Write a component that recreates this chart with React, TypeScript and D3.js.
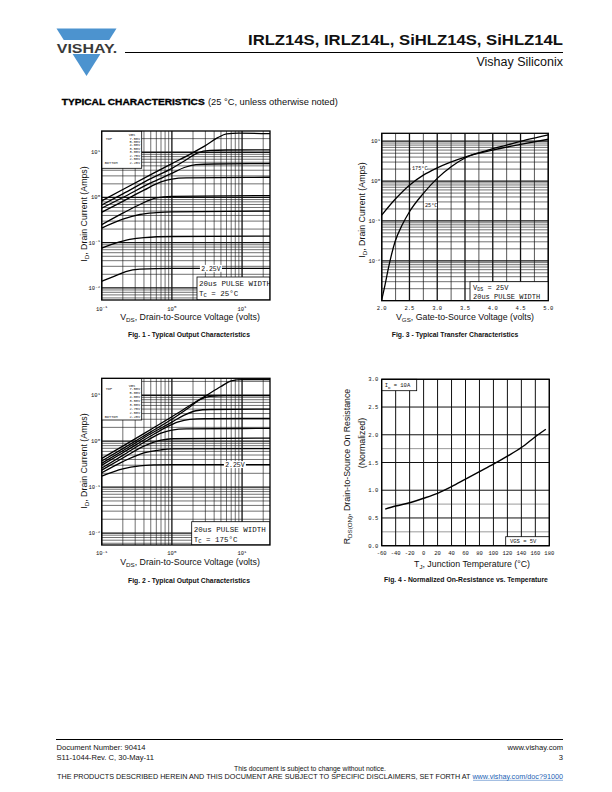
import React from "react";
import * as d3 from "d3";

type Pt = [number, number];

const SANS = "'Liberation Sans', Arial, Helvetica, sans-serif";
const MONO = "'Liberation Mono', 'DejaVu Sans Mono', monospace";

// ---------- page text ----------
const TITLE = "IRLZ14S, IRLZ14L, SiHLZ14S, SiHLZ14L";
const SUBTITLE = "Vishay Siliconix";
const SECTION = "TYPICAL CHARACTERISTICS";
const SECTION_NOTE = "(25 °C, unless otherwise noted)";
const FOOTER_LEFT = ["Document Number: 90414", "S11-1044-Rev. C, 30-May-11"];
const FOOTER_RIGHT = ["www.vishay.com", "3"];
const FOOTER_NOTICE = "This document is subject to change without notice.";
const FOOTER_DISCLAIMER = "THE PRODUCTS DESCRIBED HEREIN AND THIS DOCUMENT ARE SUBJECT TO SPECIFIC DISCLAIMERS, SET FORTH AT ";
const FOOTER_LINK = "www.vishay.com/doc?91000";

// ---------- Fig. 1 / Fig. 2 (output characteristics) ----------
const VGS_LABELS = ["7.50V", "5.00V", "4.00V", "3.50V", "3.00V", "2.75V", "2.50V", "2.25V"];
const VDS_DOMAIN: [number, number] = [0.1, 25];
const OUT_X_EXP = ["-1", "0", "1"];
const OUT_Y_EXP = ["-2", "-1", "0", "1"];

// Fig. 1, TC = 25 °C  [VDS, ID]
const fig1Vgs750: Pt[] = [[0.1, 0.84], [0.2, 1.5], [0.5, 3.2], [1, 5.6], [2, 9.8], [3, 14], [4.5, 21], [6, 25.5], [9, 26.5], [25, 25.8]];
const fig1Vgs500: Pt[] = [[0.1, 0.68], [0.2, 1.2], [0.5, 2.6], [1, 4.4], [1.6, 6.8], [2.3, 9.6], [3.5, 11], [6, 11.2], [25, 11.3]];
const fig1Vgs400: Pt[] = [[0.1, 0.58], [0.2, 1.0], [0.5, 2.1], [1, 3.4], [1.5, 4.6], [2.2, 5.3], [4, 5.5], [25, 5.6]];
const fig1Vgs350: Pt[] = [[0.1, 0.47], [0.2, 0.82], [0.4, 1.45], [0.7, 2.2], [1.0, 2.55], [1.6, 2.7], [25, 2.8]];
const fig1Vgs300: Pt[] = [[0.1, 0.25], [0.2, 0.45], [0.35, 0.7], [0.6, 0.98], [1.0, 1.06], [25, 1.1]];
const fig1Vgs275: Pt[] = [[0.1, 0.21], [0.2, 0.33], [0.35, 0.42], [0.6, 0.46], [1, 0.48], [25, 0.5]];
const fig1Vgs250: Pt[] = [[0.1, 0.076], [0.15, 0.095], [0.25, 0.118], [0.4, 0.13], [1, 0.137], [25, 0.14]];
const fig1Vgs225: Pt[] = [[0.1, 0.014], [0.15, 0.018], [0.22, 0.023], [0.35, 0.026], [1, 0.027], [25, 0.027]];
const FIG1_CURVES = [fig1Vgs750, fig1Vgs500, fig1Vgs400, fig1Vgs350, fig1Vgs300, fig1Vgs275, fig1Vgs250, fig1Vgs225];
const FIG1_Y_DOMAIN: [number, number] = [0.0054, 29.5];
const FIG1_LABEL_VDS = 3.6;

// Fig. 2, TC = 175 °C  [VDS, ID]
const fig2Vgs750: Pt[] = [[0.1, 0.42], [0.2, 0.78], [0.5, 1.8], [1, 3.4], [2, 6.6], [3, 9.6], [5, 15.5], [7, 20.5], [10, 22], [25, 22]];
const fig2Vgs500: Pt[] = [[0.1, 0.37], [0.2, 0.69], [0.5, 1.6], [1, 3.0], [1.7, 5.2], [2.5, 8], [3.5, 9.5], [6, 9.8], [25, 9.8]];
const fig2Vgs400: Pt[] = [[0.1, 0.33], [0.2, 0.62], [0.5, 1.45], [1, 2.6], [1.5, 3.7], [2.2, 4.6], [3.5, 4.9], [25, 5.0]];
const fig2Vgs350: Pt[] = [[0.1, 0.30], [0.2, 0.56], [0.5, 1.3], [0.8, 1.95], [1.2, 2.6], [1.8, 3.0], [3, 3.1], [25, 3.15]];
const fig2Vgs300: Pt[] = [[0.1, 0.26], [0.2, 0.49], [0.45, 1.05], [0.7, 1.5], [1.0, 1.75], [1.6, 1.85], [25, 1.9]];
const fig2Vgs275: Pt[] = [[0.1, 0.235], [0.2, 0.43], [0.4, 0.78], [0.7, 1.05], [1.0, 1.13], [25, 1.17]];
const fig2Vgs250: Pt[] = [[0.1, 0.205], [0.2, 0.36], [0.4, 0.56], [0.7, 0.65], [1, 0.68], [25, 0.69]];
const fig2Vgs225: Pt[] = [[0.1, 0.174], [0.2, 0.25], [0.35, 0.29], [0.6, 0.305], [1, 0.31], [25, 0.31]];
const FIG2_CURVES = [fig2Vgs750, fig2Vgs500, fig2Vgs400, fig2Vgs350, fig2Vgs300, fig2Vgs275, fig2Vgs250, fig2Vgs225];
const FIG2_Y_DOMAIN: [number, number] = [0.0055, 23.4];
const FIG2_LABEL_VDS = 7.9;

// ---------- Fig. 3 (transfer) [VGS, ID] ----------
const VGS_DOMAIN: [number, number] = [2, 5];
const FIG3_Y_DOMAIN: [number, number] = [0.001, 15.8];
const FIG3_Y_EXP = ["-2", "-1", "0", "1"];
const fig3T25: Pt[] = [[2.0, 0.00105], [2.06, 0.0025], [2.12, 0.0065], [2.24, 0.03], [2.37, 0.08], [2.5, 0.17], [2.75, 0.49], [3.0, 1.17], [3.25, 2.3], [3.5, 3.8], [3.9, 5.9], [4.25, 8.0], [4.6, 10.8], [5.0, 14.5]];
const fig3T175: Pt[] = [[2.0, 0.14], [2.25, 0.36], [2.5, 0.79], [2.75, 1.41], [3.0, 2.15], [3.5, 4.0], [4.0, 6.0], [4.5, 8.3], [5.0, 11.2]];

// ---------- Fig. 4 (normalized RDS(on)) ----------
const TJ_DOMAIN: [number, number] = [-60, 180];
const RDS_DOMAIN: [number, number] = [0, 3];
const fig4Temp = [-55, -40, -20, 0, 20, 40, 60, 80, 100, 120, 140, 160, 175];
const fig4Rds = [0.66, 0.715, 0.775, 0.855, 0.945, 1.065, 1.2, 1.335, 1.47, 1.615, 1.77, 1.965, 2.1];
const FIG4_GRAY = [0.25, 0.75, 1.75];

const isDecade = (v: number) => Math.abs(Math.log10(v) - Math.round(Math.log10(v))) < 1e-6;

function Exp10({ x, y, exp, anchor }: { x: number; y: number; exp: string; anchor: string }) {
  return (
    <text x={x} y={y} textAnchor={anchor as any} fontFamily={MONO} fontSize={5.5} fill="#111">
      10<tspan fontSize={4.2} dy={-2.2}>{exp}</tspan>
    </text>
  );
}

function YTitleID({ cx, cy }: { cx: number; cy: number }) {
  return (
    <text transform={`translate(${cx + 3},${cy}) rotate(-90)`} textAnchor="middle" fontFamily={SANS} fontSize={8.8} fill="#111">
      I<tspan fontSize={6.2} dy={2}>D</tspan><tspan dy={-2}>, Drain Current (Amps)</tspan>
    </text>
  );
}

interface OutProps {
  clipId: string;
  left: number; right: number; top: number; bottom: number;
  yDomain: [number, number];
  curves: Pt[][];
  legendBottom: number; legendHeaderY: number; legendRow0: number; legendStep: number;
  labelVds: number;
  boxX: number; boxY: number; boxL1: number; boxL2: number;
  tc: string;
  xLabelY: number;
  titleCx: number; titleY: number;
  ytCx: number; ytCy: number;
  caption: string; captionCx: number; captionY: number;
}

function OutputChart(p: OutProps) {
  const xs = d3.scaleLog().domain(VDS_DOMAIN).range([p.left, p.right]);
  const ys = d3.scaleLog().domain(p.yDomain).range([p.bottom, p.top]);
  const line = d3.line<Pt>().x((d) => xs(d[0])).y((d) => ys(d[1])).curve(d3.curveMonotoneX);
  const xt = xs.ticks();
  const yt = ys.ticks();
  const last = p.curves[p.curves.length - 1];
  const lblY = ys(last[last.length - 1][1]);
  const lblX = xs(p.labelVds);
  const legRight = p.left + 40;
  return (
    <g>
      <defs>
        <clipPath id={p.clipId}>
          <rect x={p.left} y={p.top} width={p.right - p.left} height={p.bottom - p.top} />
        </clipPath>
      </defs>
      <g clipPath={`url(#${p.clipId})`}>
        {xt.map((v, i) => (
          <line key={"x" + i} x1={xs(v)} x2={xs(v)} y1={p.top} y2={p.bottom} stroke="#111" strokeWidth={isDecade(v) ? 1.3 : 0.6} />
        ))}
        {yt.map((v, i) => (
          <line key={"y" + i} x1={p.left} x2={p.right} y1={ys(v)} y2={ys(v)} stroke="#111" strokeWidth={isDecade(v) ? 1.3 : 0.6} />
        ))}
        {p.curves.map((c, i) => (
          <path key={"c" + i} d={line(c) || ""} fill="none" stroke="#000" strokeWidth={1.3} />
        ))}
        {/* legend */}
        <rect x={p.left} y={p.top} width={legRight - p.left} height={p.legendBottom - p.top} fill="#fff" stroke="#000" strokeWidth={0.8} />
        <text x={legRight - 13} y={p.legendHeaderY} fontFamily={MONO} fontSize={3.6} fill="#111">VGS</text>
        {VGS_LABELS.map((l, i) => (
          <text key={"l" + i} x={legRight - 1.5} y={p.legendRow0 + i * p.legendStep} textAnchor="end" fontFamily={MONO} fontSize={3.6} fill="#111">{l}</text>
        ))}
        <text x={p.left + 4} y={p.legendRow0} fontFamily={MONO} fontSize={3.6} fill="#111">TOP</text>
        <text x={p.left + 3} y={p.legendRow0 + (VGS_LABELS.length - 1) * p.legendStep} fontFamily={MONO} fontSize={3.6} fill="#111">BOTTOM</text>
        {/* 2.25V label */}
        <rect x={lblX - 11} y={lblY - 3.5} width={22} height={7} fill="#fff" />
        <text x={lblX} y={lblY + 2.4} textAnchor="middle" fontFamily={MONO} fontSize={6.5} fill="#111">2.25V</text>
        {/* annotation box */}
        <rect x={p.boxX} y={p.boxY} width={p.right - p.boxX} height={p.bottom - p.boxY} fill="#fff" stroke="#000" strokeWidth={0.8} />
        <text x={p.boxX + 2} y={p.boxL1} fontFamily={MONO} fontSize={7.5} fill="#111">20us PULSE WIDTH</text>
        <text x={p.boxX + 2} y={p.boxL2} fontFamily={MONO} fontSize={7.5} fill="#111">
          T<tspan fontSize={5.5} dy={1.5}>C</tspan><tspan dy={-1.5}>{" = " + p.tc}</tspan>
        </text>
      </g>
      <rect x={p.left} y={p.top} width={p.right - p.left} height={p.bottom - p.top} fill="none" stroke="#000" strokeWidth={1.3} />
      {OUT_X_EXP.map((e) => (
        <Exp10 key={"xe" + e} x={xs(Math.pow(10, +e))} y={p.xLabelY} exp={e} anchor="middle" />
      ))}
      {OUT_Y_EXP.map((e) => (
        <Exp10 key={"ye" + e} x={p.left - 1.5} y={ys(Math.pow(10, +e)) + 2} exp={e} anchor="end" />
      ))}
      <text x={p.titleCx} y={p.titleY} textAnchor="middle" fontFamily={SANS} fontSize={8.8} fill="#111">
        V<tspan fontSize={6.2} dy={2}>DS</tspan><tspan dy={-2}>, Drain-to-Source Voltage (volts)</tspan>
      </text>
      <YTitleID cx={p.ytCx} cy={p.ytCy} />
      <text x={p.captionCx} y={p.captionY} textAnchor="middle" fontFamily={SANS} fontWeight="bold" fontSize={6.8} fill="#111">{p.caption}</text>
    </g>
  );
}

function Fig3() {
  const left = 381.7, right = 548.3, top = 133.3, bottom = 300.7;
  const xs = d3.scaleLinear().domain(VGS_DOMAIN).range([left, right]);
  const ys = d3.scaleLog().domain(FIG3_Y_DOMAIN).range([bottom, top]);
  const line = d3.line<Pt>().x((d) => xs(d[0])).y((d) => ys(d[1])).curve(d3.curveMonotoneX);
  const vLines = d3.range(VGS_DOMAIN[0], VGS_DOMAIN[1] + 0.001, 0.25);
  const xLabels = d3.range(VGS_DOMAIN[0], VGS_DOMAIN[1] + 0.001, 0.5);
  const yt = ys.ticks();
  const fmt = d3.format(".1f");
  return (
    <g>
      <defs>
        <clipPath id="clip3"><rect x={left} y={top} width={right - left} height={bottom - top} /></clipPath>
      </defs>
      <g clipPath="url(#clip3)">
        {vLines.map((v, i) => (
          <line key={"v" + i} x1={xs(v)} x2={xs(v)} y1={top} y2={bottom} stroke="#111" strokeWidth={i % 2 === 0 ? 1.3 : 0.7} />
        ))}
        {yt.map((v, i) => (
          <line key={"h" + i} x1={left} x2={right} y1={ys(v)} y2={ys(v)} stroke="#111" strokeWidth={isDecade(v) ? 1.3 : 0.6} />
        ))}
        <path d={line(fig3T25) || ""} fill="none" stroke="#000" strokeWidth={1.3} />
        <path d={line(fig3T175) || ""} fill="none" stroke="#000" strokeWidth={1.3} />
        <rect x={411} y={164} width={16} height={7} fill="#fff" />
        <text x={412} y={169.5} fontFamily={MONO} fontSize={5.2} fill="#111">175°C</text>
        <rect x={424} y={201.5} width={13} height={7} fill="#fff" />
        <text x={425} y={207} fontFamily={MONO} fontSize={5.2} fill="#111">25°C</text>
        <rect x={470} y={281.7} width={right - 470} height={bottom - 281.7} fill="#fff" stroke="#000" strokeWidth={0.8} />
        <text x={473} y={289.5} fontFamily={MONO} fontSize={7} fill="#111">
          V<tspan fontSize={5} dy={1.5}>DS</tspan><tspan dy={-1.5}> = 25V</tspan>
        </text>
        <text x={473} y={298.5} fontFamily={MONO} fontSize={7} fill="#111">20us PULSE WIDTH</text>
      </g>
      <rect x={left} y={top} width={right - left} height={bottom - top} fill="none" stroke="#000" strokeWidth={1.3} />
      {xLabels.map((v, i) => (
        <text key={"xl" + i} x={xs(v)} y={310} textAnchor="middle" fontFamily={MONO} fontSize={5.5} fill="#111">{fmt(v)}</text>
      ))}
      {FIG3_Y_EXP.map((e) => (
        <Exp10 key={"ye" + e} x={left - 1.5} y={ys(Math.pow(10, +e)) + 2} exp={e} anchor="end" />
      ))}
      <text x={465} y={320} textAnchor="middle" fontFamily={SANS} fontSize={8.8} fill="#111">
        V<tspan fontSize={6.2} dy={2}>GS</tspan><tspan dy={-2}>, Gate-to-Source Voltage (volts)</tspan>
      </text>
      <YTitleID cx={361.7} cy={210} />
      <text x={455} y={336.5} textAnchor="middle" fontFamily={SANS} fontWeight="bold" fontSize={6.8} fill="#111">Fig. 3 - Typical Transfer Characteristics</text>
    </g>
  );
}

function Fig4() {
  const left = 381.7, right = 549.3, top = 379.3, bottom = 545.7;
  const xs = d3.scaleLinear().domain(TJ_DOMAIN).range([left, right]);
  const ys = d3.scaleLinear().domain(RDS_DOMAIN).range([bottom, top]);
  const pts: Pt[] = fig4Temp.map((t, i) => [t, fig4Rds[i]]);
  const line = d3.line<Pt>().x((d) => xs(d[0])).y((d) => ys(d[1])).curve(d3.curveMonotoneX);
  const xTicks = d3.range(TJ_DOMAIN[0], TJ_DOMAIN[1] + 0.1, 20);
  const yTicks = d3.range(RDS_DOMAIN[0], RDS_DOMAIN[1] + 0.01, 0.5);
  const fmt = d3.format(".1f");
  return (
    <g>
      {FIG4_GRAY.map((v, i) => (
        <line key={"g" + i} x1={left} x2={right} y1={ys(v)} y2={ys(v)} stroke="#9a9a9a" strokeWidth={1} />
      ))}
      {xTicks.map((v, i) => (
        <line key={"v" + i} x1={xs(v)} x2={xs(v)} y1={top} y2={bottom} stroke="#111" strokeWidth={1} />
      ))}
      {yTicks.map((v, i) => (
        <line key={"h" + i} x1={left} x2={right} y1={ys(v)} y2={ys(v)} stroke="#111" strokeWidth={1} />
      ))}
      <path d={line(pts) || ""} fill="none" stroke="#000" strokeWidth={1.4} />
      <rect x={left} y={top} width={35} height={11.4} fill="#fff" stroke="#000" strokeWidth={0.8} />
      <text x={left + 3} y={top + 8} fontFamily={MONO} fontSize={5.5} fill="#111">
        I<tspan fontSize={4} dy={1.2}>D</tspan><tspan dy={-1.2}> = 10A</tspan>
      </text>
      <rect x={505.7} y={536.7} width={right - 505.7} height={bottom - 536.7} fill="#fff" stroke="#000" strokeWidth={0.8} />
      <text x={510} y={543.3} fontFamily={MONO} fontSize={5.5} fill="#111">VGS = 5V</text>
      <rect x={left} y={top} width={right - left} height={bottom - top} fill="none" stroke="#000" strokeWidth={1.3} />
      {xTicks.map((v, i) => (
        <text key={"xl" + i} x={xs(v)} y={555} textAnchor="middle" fontFamily={MONO} fontSize={5.5} fill="#111">{String(v)}</text>
      ))}
      {yTicks.map((v, i) => (
        <text key={"yl" + i} x={left - 3.5} y={ys(v) + 2} textAnchor="end" fontFamily={MONO} fontSize={5.5} fill="#111">{fmt(v)}</text>
      ))}
      <text x={472} y={566.5} textAnchor="middle" fontFamily={SANS} fontSize={8.8} fill="#111">
        T<tspan fontSize={6.2} dy={2}>J</tspan><tspan dy={-2}>, Junction Temperature (°C)</tspan>
      </text>
      <text transform={`translate(${349.7},${466.5}) rotate(-90)`} textAnchor="middle" fontFamily={SANS} fontSize={8.8} fill="#111">
        R<tspan fontSize={6.2} dy={2}>DS(ON)</tspan><tspan dy={-2}>, Drain-to-Source On Resistance</tspan>
      </text>
      <text transform={`translate(${364.7},${443}) rotate(-90)`} textAnchor="middle" fontFamily={SANS} fontSize={8.8} fill="#111">(Normalized)</text>
      <text x={466} y={582} textAnchor="middle" fontFamily={SANS} fontWeight="bold" fontSize={6.8} fill="#111">Fig. 4 - Normalized On-Resistance vs. Temperature</text>
    </g>
  );
}

function Header() {
  return (
    <g>
      <polygon points="56.5,28.5 116.5,28.5 86.5,76" fill="#4c93cf" />
      <rect x={50} y={40} width={75} height={14} fill="#fff" />
      <text x={56.8} y={52.5} fontFamily={SANS} fontWeight="bold" fontSize={13} fill="#3a3a3a" textLength={60.5} lengthAdjust="spacingAndGlyphs">VISHAY.</text>
      <text x={563} y={45} textAnchor="end" fontFamily={SANS} fontWeight="bold" fontSize={15} fill="#111" textLength={315} lengthAdjust="spacingAndGlyphs">{TITLE}</text>
      <line x1={125} x2={563} y1={52.5} y2={52.5} stroke="#000" strokeWidth={1} />
      <text x={563} y={66} textAnchor="end" fontFamily={SANS} fontSize={12.5} fill="#111">{SUBTITLE}</text>
      <text x={61.7} y={105} fontFamily={SANS} fontWeight="bold" fontSize={9.5} fill="#000" stroke="#000" strokeWidth={0.35} textLength={143} lengthAdjust="spacingAndGlyphs">{SECTION}</text>
      <text x={208} y={105} fontFamily={SANS} fontSize={9.3} fill="#111">{SECTION_NOTE}</text>
    </g>
  );
}

function Footer() {
  return (
    <g fontFamily={SANS} fill="#111">
      <line x1={56} x2={563} y1={739.5} y2={739.5} stroke="#000" strokeWidth={1.2} />
      <text x={56.5} y={750} fontSize={7.6}>{FOOTER_LEFT[0]}</text>
      <text x={56.5} y={760} fontSize={7.6}>{FOOTER_LEFT[1]}</text>
      <text x={563} y={750} fontSize={7.6} textAnchor="end">{FOOTER_RIGHT[0]}</text>
      <text x={563} y={760} fontSize={7.6} textAnchor="end">{FOOTER_RIGHT[1]}</text>
      <text x={310} y={771} fontSize={6.8} textAnchor="middle">{FOOTER_NOTICE}</text>
      <text x={57} y={779} fontSize={6.9} textLength={506} lengthAdjust="spacingAndGlyphs">
        {FOOTER_DISCLAIMER}
        <tspan fill="#1a5fb4">{FOOTER_LINK}</tspan>
      </text>
      <line x1={473} x2={563} y1={780.3} y2={780.3} stroke="#1a5fb4" strokeWidth={0.5} />
    </g>
  );
}

export default function App() {
  return (
    <svg width={612} height={792} viewBox="0 0 612 792" style={{ position: "absolute", left: 0, top: 0 }}>
      <rect width={612} height={792} fill="#fff" />
      <Header />
      <OutputChart
        clipId="clip1" left={101.7} right={270} top={131} bottom={300}
        yDomain={FIG1_Y_DOMAIN} curves={FIG1_CURVES}
        legendBottom={168.3} legendHeaderY={135.8} legendRow0={139.5} legendStep={3.43}
        labelVds={FIG1_LABEL_VDS}
        boxX={197} boxY={277} boxL1={286} boxL2={295.5} tc="25°C"
        xLabelY={310.5} titleCx={190} titleY={320} ytCx={84} ytCy={214}
        caption="Fig. 1 - Typical Output Characteristics" captionCx={189} captionY={336.5}
      />
      <OutputChart
        clipId="clip2" left={101.7} right={270} top={378.3} bottom={545}
        yDomain={FIG2_Y_DOMAIN} curves={FIG2_CURVES}
        legendBottom={420} legendHeaderY={386.5} legendRow0={390} legendStep={3.96}
        labelVds={FIG2_LABEL_VDS}
        boxX={191.7} boxY={521.7} boxL1={532} boxL2={541.5} tc="175°C"
        xLabelY={555} titleCx={190} titleY={565} ytCx={84} ytCy={461}
        caption="Fig. 2 - Typical Output Characteristics" captionCx={189} captionY={583}
      />
      <Fig3 />
      <Fig4 />
      <Footer />
    </svg>
  );
}
